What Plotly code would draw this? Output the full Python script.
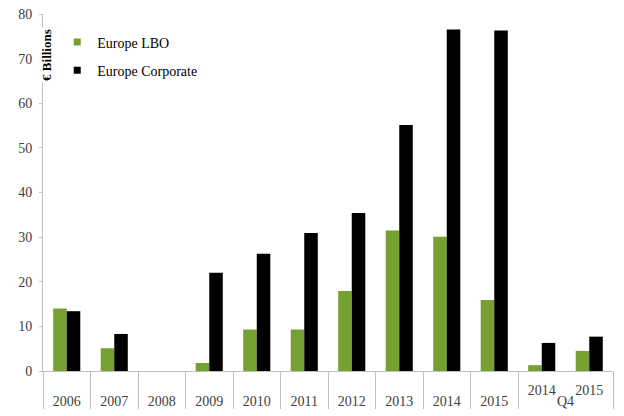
import plotly.graph_objects as go

outer = ["2006", "2007", "2008", "2009", "2010", "2011", "2012", "2013", "2014", "2015", "Q4", "Q4"]
inner = ["", "", "", "", "", "", "", "", "", "", "2014", "2015"]
lbo = [14.0, 5.1, 0, 1.8, 9.3, 9.3, 17.9, 31.5, 30.1, 15.9, 1.3, 4.5]
corp = [13.4, 8.3, 0, 22.0, 26.3, 30.9, 35.4, 55.1, 76.5, 76.3, 6.3, 7.7]
y_ticks = [0, 10, 20, 30, 40, 50, 60, 70, 80]
series_names = ["Europe LBO", "Europe Corporate"]

GREEN = "#77A033"
BLACK = "#000000"
FONT = "Liberation Serif"

fig = go.Figure()
for name, vals, col in [(series_names[0], lbo, GREEN), (series_names[1], corp, BLACK)]:
    fig.add_trace(go.Bar(x=[outer, inner], y=vals, name=name, showlegend=False,
                         marker=dict(color=col, line=dict(width=0))))
for name, col in [(series_names[0], GREEN), (series_names[1], BLACK)]:
    fig.add_trace(go.Scatter(x=[[None], [None]], y=[None], name=name, mode="markers",
                             legendgroup=name,
                             marker=dict(symbol="square", size=7, color=col)))

fig.update_layout(
    width=624, height=416,
    margin=dict(l=43, r=11, t=14, b=45),
    paper_bgcolor="white", plot_bgcolor="white",
    barmode="group", bargap=0.43, bargroupgap=0,
    font=dict(family=FONT, size=14, color="#404040"),
    showlegend=True,
    legend=dict(x=0.025, y=0.965, xanchor="left", yanchor="top",
                bgcolor="rgba(0,0,0,0)", font=dict(family=FONT, size=14, color="#000000"),
                itemwidth=30, tracegroupgap=7),
    xaxis=dict(type="multicategory", showline=True, linecolor="#BFBFBF", linewidth=1,
               showdividers=True, dividercolor="#BFBFBF", dividerwidth=1,
               ticklabelstandoff=6,
               tickfont=dict(family=FONT, size=14, color="#404040"),
               showgrid=False, zeroline=False, automargin=False),
    yaxis=dict(range=[0, 80], tickvals=y_ticks, showline=True, linecolor="#BFBFBF",
               linewidth=1, ticks="outside", ticklen=3, tickcolor="#BFBFBF",
               ticklabelstandoff=4,
               showgrid=False, zeroline=False, automargin=False,
               tickfont=dict(family=FONT, size=14, color="#404040")),
)

fig.add_annotation(text="<b>€ Billions</b>", xref="paper", yref="paper",
                   x=0.005, y=0.885, xanchor="center", yanchor="middle",
                   textangle=-90, showarrow=False,
                   bgcolor="white", font=dict(family=FONT, size=13, color="#000000"))

fig.write_html("out.html", config={"displayModeBar": False},
               post_script="document.body.style.margin='0';")
